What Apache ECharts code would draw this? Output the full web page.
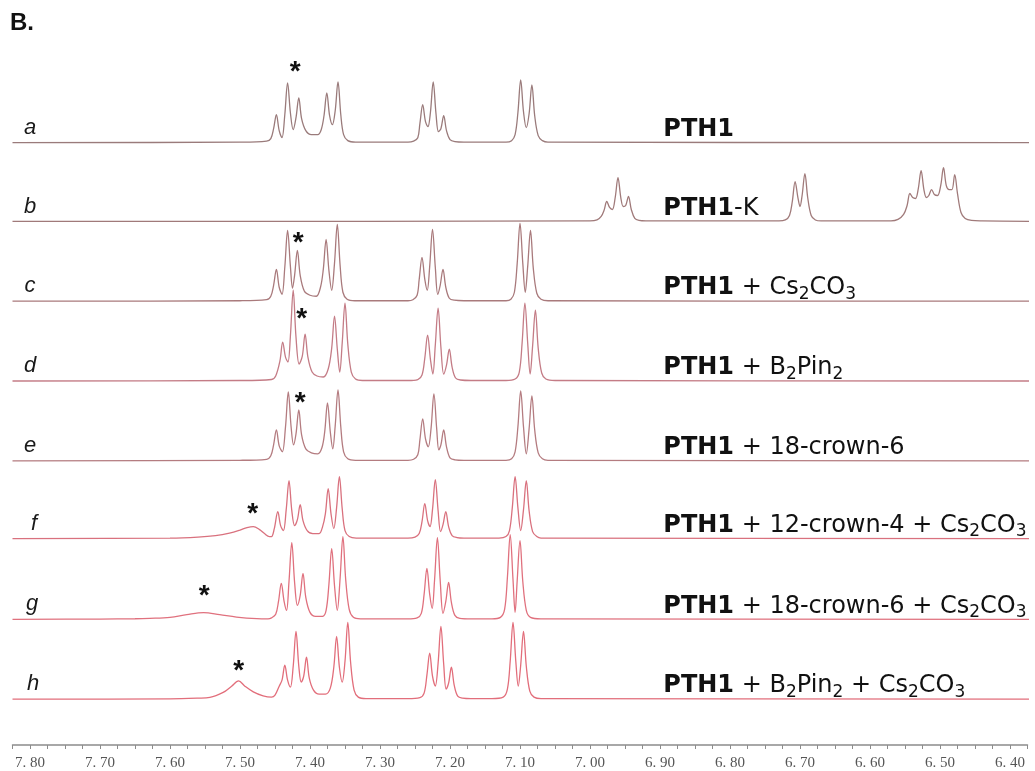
<!DOCTYPE html>
<html>
<head>
<meta charset="utf-8">
<title>PTH1 1H NMR</title>
<script src="https://cdn.jsdelivr.net/npm/echarts@6/dist/echarts.min.js"></script>
<style>
  html, body { margin: 0; background: #fff; }
  #main { width: 1035px; height: 771px; }
</style>
</head>
<body>
<div id="main"></div>
<script>
// trace names and the conditions printed next to them
const traceNames = ['a', 'b', 'c', 'd', 'e', 'f', 'g', 'h']
const conditions = [
  '{bold|PTH1}',
  '{bold|PTH1}-K',
  '{bold|PTH1} + Cs{sub|2}CO{sub|3}',
  '{bold|PTH1} + B{sub|2}Pin{sub|2}',
  '{bold|PTH1} + 18-crown-6',
  '{bold|PTH1} + 12-crown-4 + Cs{sub|2}CO{sub|3}',
  '{bold|PTH1} + 18-crown-6 + Cs{sub|2}CO{sub|3}',
  '{bold|PTH1} + B{sub|2}Pin{sub|2} + Cs{sub|2}CO{sub|3}'
]

// spectra: [ppm, intensity above the trace baseline]
const specA = [
  [7.825,0],[7.50,0.5],[7.462,1.5],[7.456,4],[7.452,14],[7.448,28],[7.444,12],[7.440,5],[7.436,28],[7.432,60],[7.428,30],[7.424,13],[7.420,25],[7.416,45],[7.412,24],[7.406,12],[7.398,8],[7.389,8],[7.384,13],[7.380,27],[7.376,50],[7.372,27],[7.368,18],[7.364,32],[7.360,61],[7.356,28],[7.352,8],[7.346,2],[7.335,0.5],
  [7.26,0.5],[7.252,1.5],[7.246,5],[7.243,19],[7.239,38],[7.235,21],[7.2315,16],[7.228,30],[7.224,61],[7.220,29],[7.2165,11],[7.213,14],[7.209,27],[7.205,12],[7.200,3],[7.193,1],[7.18,0.5],
  [7.12,0.5],[7.112,2],[7.107,8],[7.103,30],[7.099,63],[7.095,31],[7.091,15],[7.087,29],[7.083,58],[7.079,27],[7.074,7],[7.068,2],[7.06,0.5],[6.37,0]
]
const specB = [
  [7.825,0],[7.00,0.5],[6.990,1.5],[6.984,5],[6.980,11],[6.976,20],[6.972,14],[6.968,12],[6.964,24],[6.960,44],[6.956,24],[6.9525,15],[6.949,16],[6.945,25],[6.941,12],[6.936,3],[6.930,1],[6.92,0.5],
  [6.73,0.5],[6.721,1.5],[6.715,6],[6.711,20],[6.707,40],[6.703,24],[6.700,15],[6.697,26],[6.693,48],[6.689,24],[6.684,6],[6.678,1.5],[6.67,0.5],
  [6.57,0.5],[6.560,2],[6.552,7],[6.547,16],[6.543,28],[6.539,24],[6.535,23],[6.531,33],[6.527,51],[6.523,32],[6.5195,24],[6.516,26],[6.512,32],[6.508,27],[6.5035,26],[6.499,36],[6.495,54],[6.491,36],[6.487,32],[6.483,32],[6.479,47],[6.475,28],[6.470,9],[6.464,3],[6.455,1],[6.44,0.5],[6.37,0]
]
const specC = [
  [7.825,0],[7.50,0.5],[7.462,1.5],[7.456,5],[7.452,16],[7.448,32],[7.444,14],[7.440,7],[7.436,34],[7.432,71],[7.428,35],[7.425,13],[7.422,26],[7.418,51],[7.414,26],[7.408,10],[7.400,6],[7.391,5],[7.385,14],[7.381,32],[7.377,62],[7.373,31],[7.369,11],[7.365,38],[7.361,77],[7.357,36],[7.353,9],[7.347,2],[7.336,0.5],
  [7.26,0.5],[7.253,1.5],[7.247,6],[7.244,22],[7.240,44],[7.236,22],[7.2325,11],[7.229,35],[7.225,72],[7.221,34],[7.2175,7],[7.214,16],[7.210,32],[7.206,14],[7.201,3],[7.194,1],[7.18,0.5],
  [7.12,0.5],[7.113,2],[7.108,9],[7.104,38],[7.100,78],[7.096,38],[7.0925,9],[7.089,35],[7.085,71],[7.081,33],[7.076,8],[7.070,2],[7.06,0.5],[6.37,0]
]
const specD = [
  [7.825,0],[7.50,0.5],[7.455,1.5],[7.449,5],[7.443,20],[7.439,39],[7.435,24],[7.4315,19],[7.428,45],[7.424,91],[7.420,44],[7.4155,17],[7.411,25],[7.407,47],[7.403,24],[7.397,9],[7.390,5],[7.381,4],[7.374,12],[7.369,33],[7.365,65],[7.361,32],[7.3575,9],[7.354,38],[7.350,78],[7.346,37],[7.341,9],[7.335,2],[7.325,0.5],
  [7.26,0.5],[7.246,1.5],[7.240,6],[7.236,23],[7.232,46],[7.228,22],[7.2245,7],[7.221,36],[7.217,73],[7.213,34],[7.209,7],[7.205,16],[7.201,32],[7.197,14],[7.192,3],[7.185,1],[7.17,0.5],
  [7.12,0.5],[7.107,2],[7.101,9],[7.097,38],[7.093,78],[7.089,38],[7.0855,7],[7.082,35],[7.078,71],[7.074,33],[7.069,8],[7.063,2],[7.05,0.5],[6.37,0]
]
const specE = [
  [7.825,0],[7.50,0.5],[7.462,1.5],[7.456,5],[7.452,16],[7.448,31],[7.444,15],[7.4395,9],[7.435,34],[7.431,69],[7.427,34],[7.4235,16],[7.420,27],[7.416,51],[7.412,26],[7.406,12],[7.398,8],[7.389,7],[7.383,13],[7.379,29],[7.375,58],[7.371,29],[7.3675,12],[7.364,35],[7.360,71],[7.356,34],[7.352,9],[7.346,2],[7.335,0.5],
  [7.26,0.5],[7.252,1.5],[7.246,6],[7.243,21],[7.239,42],[7.235,22],[7.231,14],[7.227,33],[7.223,67],[7.219,32],[7.216,11],[7.213,16],[7.209,31],[7.205,14],[7.200,3],[7.193,1],[7.18,0.5],
  [7.12,0.5],[7.112,2],[7.107,9],[7.103,34],[7.099,70],[7.095,34],[7.091,7],[7.087,32],[7.083,65],[7.079,31],[7.074,8],[7.068,2],[7.06,0.5],[6.37,0]
]
const specF = [
  [7.825,0],[7.60,0.5],[7.56,1.5],[7.535,3],[7.515,5.5],[7.500,8.5],[7.490,11],[7.481,12],[7.472,9],[7.465,5],[7.458,2],[7.455,2],[7.451,10],[7.446,27],[7.442,13],[7.438,8],[7.434,29],[7.430,58],[7.426,28],[7.422,13],[7.418,19],[7.414,34],[7.410,18],[7.404,8],[7.396,5],[7.387,5],[7.382,12],[7.378,25],[7.374,50],[7.370,25],[7.366,10],[7.362,31],[7.358,62],[7.354,30],[7.350,8],[7.344,2],[7.334,0.5],
  [7.26,0.5],[7.250,1.5],[7.244,5],[7.240,17],[7.236,35],[7.232,18],[7.2285,12],[7.225,29],[7.221,59],[7.217,28],[7.2135,7],[7.210,14],[7.206,27],[7.202,12],[7.197,3],[7.190,1],[7.18,0.5],
  [7.13,0.5],[7.120,2],[7.115,8],[7.111,31],[7.107,62],[7.103,31],[7.099,8],[7.095,29],[7.091,58],[7.087,28],[7.082,7],[7.076,2],[7.07,0.5],[6.37,0]
]
const specG = [
  [7.825,0],[7.70,0.3],[7.65,0.6],[7.629,1],[7.600,2],[7.576,4.7],[7.552,6.7],[7.529,4.7],[7.505,2.3],[7.476,0.7],[7.460,0.5],[7.455,1.5],[7.449,5],[7.445,18],[7.441,36],[7.437,18],[7.4335,9],[7.430,38],[7.426,77],[7.422,37],[7.418,14],[7.414,24],[7.410,46],[7.406,22],[7.400,7],[7.392,3],[7.382,3],[7.377,9],[7.373,35],[7.369,71],[7.365,34],[7.361,9],[7.357,41],[7.353,83],[7.349,40],[7.344,10],[7.338,2],[7.328,0.5],
  [7.26,0.5],[7.247,1.5],[7.241,6],[7.237,25],[7.233,51],[7.229,25],[7.2255,11],[7.222,40],[7.218,82],[7.214,39],[7.210,6],[7.206,18],[7.202,37],[7.198,17],[7.193,4],[7.186,1],[7.17,0.5],
  [7.14,0.5],[7.128,2],[7.122,10],[7.118,42],[7.114,85],[7.110,40],[7.107,7],[7.104,39],[7.100,79],[7.096,38],[7.091,9],[7.085,2],[7.07,0.5],[6.37,0]
]
const specH = [
  [7.825,0],[7.60,0.3],[7.56,1],[7.543,1.7],[7.524,6.7],[7.512,13],[7.502,18.3],[7.493,13],[7.481,7.3],[7.467,3.3],[7.455,2],[7.450,4],[7.444,13],[7.440,19],[7.436,34],[7.432,19],[7.428,12],[7.424,33],[7.420,68],[7.416,33],[7.4125,17],[7.409,23],[7.405,42],[7.401,21],[7.395,9],[7.387,5],[7.378,5],[7.371,11],[7.366,32],[7.362,63],[7.358,32],[7.354,17],[7.350,38],[7.346,77],[7.342,37],[7.337,9],[7.331,2],[7.32,0.5],
  [7.26,0.5],[7.243,1.5],[7.237,6],[7.233,24],[7.229,46],[7.225,23],[7.221,13],[7.217,36],[7.213,73],[7.209,35],[7.2055,10],[7.202,16],[7.198,32],[7.194,14],[7.189,3],[7.182,1],[7.17,0.5],
  [7.14,0.5],[7.124,2],[7.118,10],[7.114,38],[7.110,77],[7.106,38],[7.1025,13],[7.099,34],[7.095,68],[7.091,33],[7.086,8],[7.080,2],[7.07,0.5],[6.37,0]
]
const spectra = [specA, specB, specC, specD, specE, specF, specG, specH]

// asterisk marks: [ppm, height above baseline] (trace b has none)
const stars = [[7.421, 75], null, [7.417, 62], [7.412, 66], [7.414, 62], [7.482, 28], [7.551, 27], [7.502, 32]]

// x axis tick labels
const tickLabels = ['7.80','7.70','7.60','7.50','7.40','7.30','7.20','7.10','7.00','6.90','6.80','6.70','6.60','6.50','6.40']

// layout of the stack (vertical offset of each trace), letter nudges and colours
const baselines = [558, 479, 399, 319, 239, 161, 80, 0]
const letterShift = [0, 0, 0, 0, 0, 4, 2, 3]
const lineColors = ['#9a7b7b', '#a07a7a', '#a97a7c', '#c47c86', '#b47c80', '#d9717e', '#e0717e', '#e26e7b']

const myChart = echarts.init(document.getElementById('main'))

const hidden = { color: 'transparent' }

let series = spectra.map((pts, i) => {
  let base = baselines[i]
  let marks = [
    {
      coord: [7.80, base],
      label: {
        show: true, position: 'inside', offset: [letterShift[i], -15],
        formatter: traceNames[i],
        fontFamily: 'Liberation Sans', fontStyle: 'italic', fontSize: 22, color: '#1a1a1a'
      }
    },
    {
      coord: [6.896, base],
      label: {
        show: true, position: 'right', distance: 0, offset: [0, -13],
        formatter: () => conditions[i],
        fontFamily: 'DejaVu Sans', fontSize: 24, lineHeight: 30, color: '#111',
        rich: {
          bold: { fontFamily: 'DejaVu Sans', fontWeight: 'bold', fontSize: 24, lineHeight: 30, color: '#111', verticalAlign: 'middle' },
          sub: { fontFamily: 'DejaVu Sans', fontSize: 17, lineHeight: 17, color: '#111', verticalAlign: 'bottom' }
        }
      }
    }
  ]
  if (stars[i]) {
    marks.push({
      coord: [stars[i][0], base + stars[i][1]],
      label: {
        show: true, position: 'inside', offset: [0, 4],
        formatter: '*',
        fontFamily: 'Liberation Sans', fontWeight: 'bold', fontSize: 28, color: '#111'
      }
    })
  }
  return {
    type: 'line',
    name: traceNames[i],
    data: pts.map(p => [p[0], p[1] + base]),
    showSymbol: false,
    smooth: 0.35,
    silent: true,
    lineStyle: { color: lineColors[i], width: 1.3 },
    markPoint: {
      symbol: 'circle',
      symbolSize: 1,
      itemStyle: hidden,
      silent: true,
      animation: false,
      data: marks
    }
  }
})

myChart.setOption({
  animation: false,
  backgroundColor: '#fff',
  graphic: [{
    type: 'text', left: 10, top: 11,
    style: { text: 'B.', font: 'bold 24px "Liberation Sans"', fill: '#111' }
  }],
  grid: { left: 12.5, right: 7.5, top: 20, bottom: 24 },
  xAxis: {
    type: 'value',
    inverse: true,
    min: 6.375,
    max: 7.825,
    interval: 0.025,
    splitLine: { show: false },
    axisLine: { onZero: false, lineStyle: { color: '#8c8c8c', width: 1.5 } },
    axisTick: { length: 4, lineStyle: { color: '#8c8c8c' } },
    axisLabel: {
      margin: 11,
      color: '#555',
      fontFamily: 'Liberation Serif',
      fontSize: 15,
      formatter: v => {
        let s = v.toFixed(2)
        return tickLabels.indexOf(s) >= 0 && Math.abs(v - Number(s)) < 0.004 ? s.replace('.', '. ') : ''
      }
    }
  },
  yAxis: { type: 'value', show: false, min: -46, max: 681 },
  series: series
})
</script>
</body>
</html>
